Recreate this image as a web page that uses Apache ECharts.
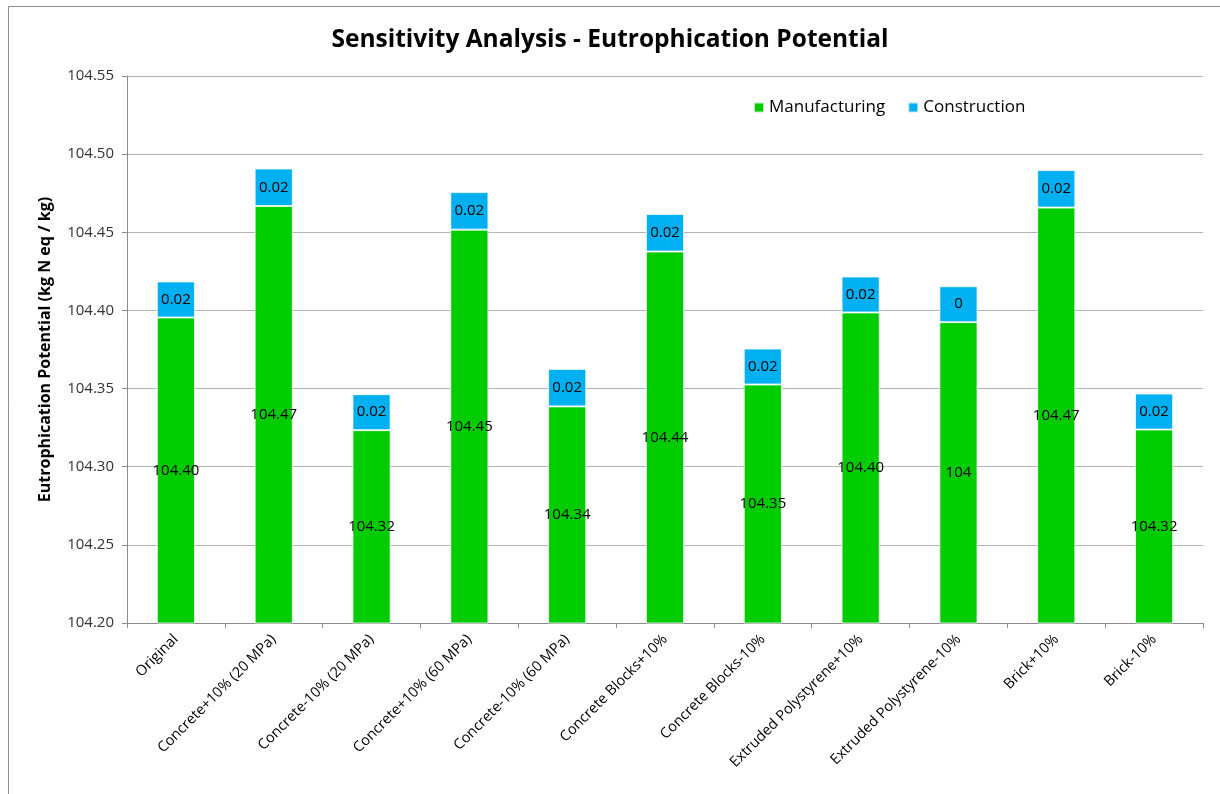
<!DOCTYPE html>
<html>
<head>
<meta charset="utf-8">
<title>Sensitivity Analysis - Eutrophication Potential</title>
<script src="https://cdn.jsdelivr.net/npm/echarts@6/dist/echarts.min.js"></script>
<style>
  html, body { margin: 0; padding: 0; background: #ffffff; }
  #chart { width: 1220px; height: 794px; }
</style>
</head>
<body>
<div id="chart"></div>
<script>
// Scenario names along the x axis
const categories = [
  'Original',
  'Concrete+10% (20 MPa)',
  'Concrete-10% (20 MPa)',
  'Concrete+10% (60 MPa)',
  'Concrete-10% (60 MPa)',
  'Concrete Blocks+10%',
  'Concrete Blocks-10%',
  'Extruded Polystyrene+10%',
  'Extruded Polystyrene-10%',
  'Brick+10%',
  'Brick-10%'
];

// Eutrophication potential per life-cycle stage (kg N eq / kg)
const manufacturing = [104.3955, 104.4668, 104.3234, 104.4517, 104.3386, 104.4377, 104.3526, 104.3987, 104.3925, 104.4658, 104.3238];
const construction  = [0.023, 0.024, 0.023, 0.024, 0.024, 0.024, 0.023, 0.023, 0.023, 0.024, 0.023];

// Decimal places shown in each scenario's data labels
const labelDecimals = [2, 2, 2, 2, 2, 2, 2, 2, 0, 2, 2];

// Value axis range and tick step
const yMin = 104.20;
const yMax = 104.55;
const yStep = 0.05;

const FONT = '"Open Sans", "Noto Sans", sans-serif';

const chart = echarts.init(document.getElementById('chart'), null, { renderer: 'canvas' });

const labelStyle = {
  show: true,
  position: 'inside',
  color: '#000000',
  fontFamily: FONT,
  fontSize: 15,
  formatter: p => p.value.toFixed(labelDecimals[p.dataIndex])
};

chart.setOption({
  animation: false,
  backgroundColor: '#ffffff',
  textStyle: { fontFamily: FONT },
  graphic: [{
    type: 'rect',
    silent: true,
    shape: { x: 8.5, y: 6.5, width: 1240, height: 820 },
    style: { fill: 'none', stroke: '#8c8c8c', lineWidth: 1 },
    z: -10
  }],
  title: {
    text: 'Sensitivity Analysis - Eutrophication Potential',
    left: 'center',
    top: 23,
    textStyle: { fontFamily: FONT, fontWeight: 'bold', fontSize: 24.5, color: '#000000' }
  },
  legend: {
    left: 748,
    top: 94,
    icon: 'rect',
    itemWidth: 10,
    itemHeight: 10,
    itemGap: 22,
    textStyle: { fontFamily: FONT, fontSize: 17, color: '#000000' },
    data: ['Manufacturing', 'Construction']
  },
  grid: { left: 127, right: 17, top: 76, bottom: 171, containLabel: false },
  xAxis: {
    type: 'category',
    data: categories,
    axisLine: { lineStyle: { color: '#8c8c8c', width: 1 } },
    axisTick: { show: true, length: 5, lineStyle: { color: '#8c8c8c' } },
    axisLabel: {
      rotate: 45,
      interval: 0,
      margin: 14,
      fontFamily: FONT,
      fontSize: 14.5,
      color: '#000000'
    }
  },
  yAxis: {
    type: 'value',
    min: yMin,
    max: yMax,
    interval: yStep,
    name: 'Eutrophication Potential (kg N eq / kg)',
    nameLocation: 'middle',
    nameGap: 74,
    nameTextStyle: { fontFamily: FONT, fontWeight: 'bold', fontSize: 16, color: '#000000' },
    axisLine: { show: true, lineStyle: { color: '#8c8c8c', width: 1 } },
    axisTick: { show: true, length: 5, lineStyle: { color: '#8c8c8c' } },
    axisLabel: {
      margin: 13,
      fontFamily: FONT,
      fontSize: 15,
      color: '#333333',
      formatter: v => v.toFixed(2)
    },
    splitLine: { show: true, lineStyle: { color: '#b4b4b4', width: 1 } }
  },
  series: [
    {
      name: 'Manufacturing',
      type: 'bar',
      stack: 'total',
      barWidth: '39%',
      data: manufacturing,
      itemStyle: { color: '#00cc00', borderColor: 'rgba(255,255,255,0.75)', borderWidth: 1 },
      label: labelStyle
    },
    {
      name: 'Construction',
      type: 'bar',
      stack: 'total',
      barWidth: '39%',
      data: construction,
      itemStyle: { color: '#00b0f0', borderColor: 'rgba(255,255,255,0.75)', borderWidth: 1 },
      label: labelStyle
    }
  ]
});
</script>
</body>
</html>
